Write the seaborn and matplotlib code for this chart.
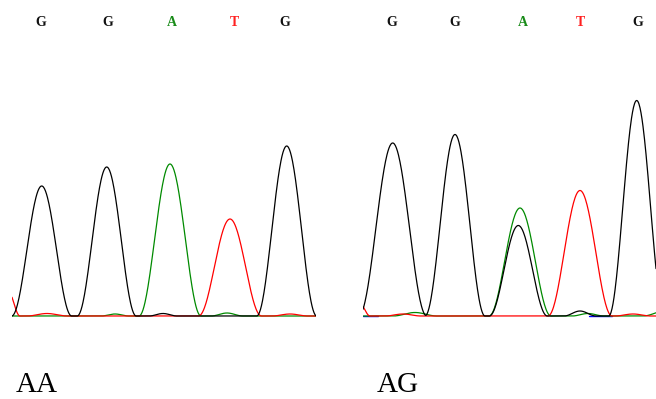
import numpy as np
import pandas as pd
import matplotlib
matplotlib.use("Agg")
import matplotlib.pyplot as plt
import seaborn as sns

# ── Data (x = scan position, y = signal height) ──
# each peak: position, height, half-width at the base
# left panel: homozygous AA
aa_bases = ["G", "G", "A", "T", "G"]
aa_calls = [28.7, 96.0, 159.7, 222.0, 273.0]
aa_black_pos = [29.7, 94.7, 274.7, 151.0]
aa_black_h = [130, 149, 170, 2.5]
aa_black_w = [30.0, 29.5, 30.0, 14.0]
aa_green_pos = [158.0, 103.0, 215.0]
aa_green_h = [152, 2.0, 3.0]
aa_green_w = [31.0, 14.0, 16.0]
aa_red_pos = [-4.0, 218.0, 35.0, 278.0]
aa_red_h = [25, 97, 2.5, 2.0]
aa_red_w = [12.0, 31.5, 20.0, 18.0]

# right panel: heterozygous AG
ag_bases = ["G", "G", "A", "T", "G"]
ag_calls = [28.7, 91.3, 159.7, 217.7, 274.3]
ag_black_pos = [29.7, 92.0, 155.3, 273.7, 217.0]
ag_black_h = [173, 181.5, 90.5, 215.5, 5.0]
ag_black_w = [34.0, 30.0, 29.0, 28.0, 16.0]
ag_green_pos = [157.0, 52.0, 225.0, 302.0]
ag_green_h = [108, 3.5, 2.5, 5.0]
ag_green_w = [31.0, 22.0, 16.0, 22.0]
ag_red_pos = [-3.0, 217.0, 40.0, 270.0]
ag_red_h = [12, 125.5, 2.0, 2.0]
ag_red_w = [10.0, 32.0, 18.0, 18.0]
ag_blue_spans = [(0.0, 15.0), (226.0, 249.0)]

genotypes = ["AA", "AG"]

base_colors = {"G": "#111111", "A": "#1a8c1a", "T": "#ff2020"}
trace_colors = {"black": "#000000", "green": "#008a00", "red": "#ff0000", "blue": "#0000ff"}


def trace(x, pos, h, w):
    # chromatogram-like peaks: cos^2 bump, zero outside +/- w
    y = np.zeros_like(x)
    for p, a, s in zip(pos, h, w):
        d = np.clip((x - p) / s, -1, 1)
        y += a * np.cos(np.pi / 2 * d) ** 2
    return y


sns.set_style("white")
plt.rcParams["font.family"] = ["Liberation Serif", "DejaVu Serif"]

W, H = 656, 399
fig = plt.figure(figsize=(W / 100, H / 100), dpi=100)

# axes placed in pixels: (left, right); baseline at pixel 316
panels = [(12, 316), (363, 656)]
label_x = [16, 377]
top_px, bot_px = 60, 325
base_px = 316

traces = [
    [("green", aa_green_pos, aa_green_h, aa_green_w),
     ("red", aa_red_pos, aa_red_h, aa_red_w),
     ("black", aa_black_pos, aa_black_h, aa_black_w)],
    [("green", ag_green_pos, ag_green_h, ag_green_w),
     ("red", ag_red_pos, ag_red_h, ag_red_w),
     ("black", ag_black_pos, ag_black_h, ag_black_w)],
]
bases = [aa_bases, ag_bases]
calls = [aa_calls, ag_calls]
blue = [[], ag_blue_spans]

for i, (l, r) in enumerate(panels):
    ax = fig.add_axes([l / W, 1 - bot_px / H, (r - l) / W, (bot_px - top_px) / H])
    width = r - l
    x = np.arange(0, width + 0.5, 0.5)
    for a, b in blue[i]:
        sns.lineplot(x=[a, b], y=[0, 0], ax=ax, color=trace_colors["blue"], lw=1.0)
    for name, pos, h, w in traces[i]:
        df = pd.DataFrame({"x": x, "y": trace(x, pos, h, w)})
        sns.lineplot(data=df, x="x", y="y", ax=ax, color=trace_colors[name],
                     lw=0.9, sort=False, estimator=None)
    ax.set_xlim(0, width)
    ax.set_ylim(-(bot_px - base_px), base_px - top_px)
    ax.axis("off")

    # base calls on top
    for b, c in zip(bases[i], calls[i]):
        fig.text((l + c) / W, 1 - 22 / H, b, ha="center", va="center",
                 fontsize=10, fontweight="bold", color=base_colors[b])

    # genotype label underneath
    fig.text(label_x[i] / W, 1 - 392 / H, genotypes[i], ha="left", va="baseline",
             fontsize=21, color="black")

fig.savefig("out.png", dpi=100, facecolor="white")
